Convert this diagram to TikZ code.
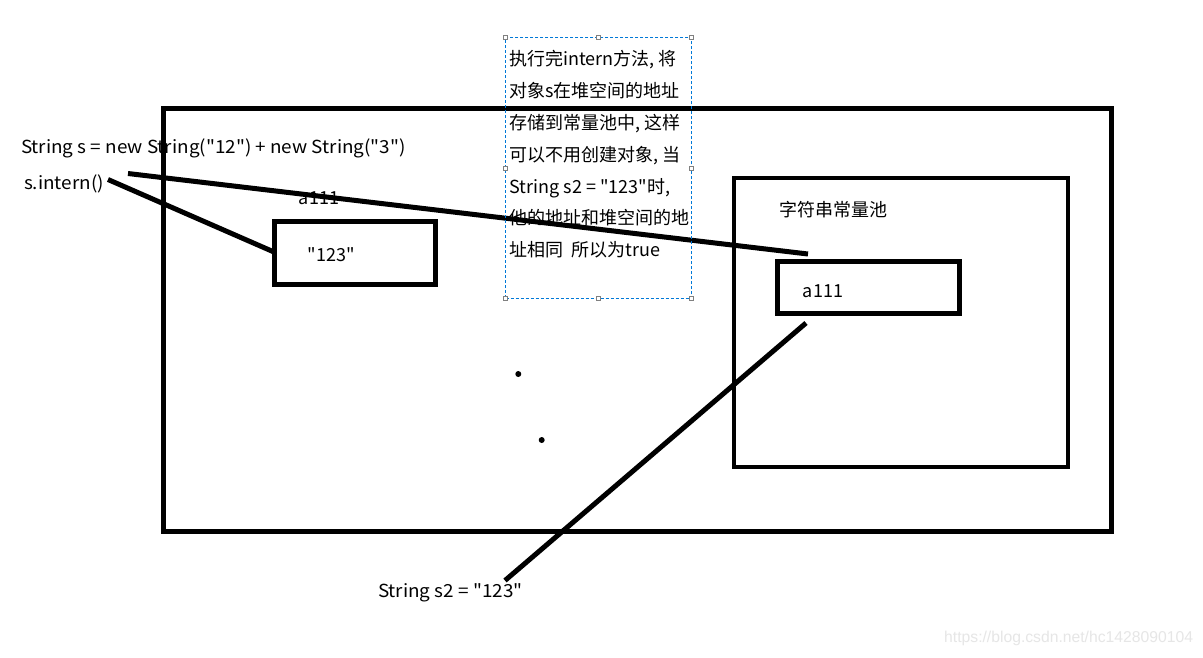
\documentclass[tikz,border=0pt]{standalone}
\usepackage{fontspec}
\setmainfont{Noto Sans CJK SC}[Ligatures=TeXOff]
\newfontfamily\codefont{Noto Sans CJK SC}[Ligatures=TeXOff, FakeStretch=1.05]
\newfontfamily\wmfont{Liberation Sans}
\definecolor{selblue}{RGB}{0,120,215}
\definecolor{wmgray}{RGB}{230,230,230}
\begin{document}
\begin{tikzpicture}[x=1pt,y=-1pt,
  every node/.style={font=\fontsize{18}{22}\selectfont, inner sep=0pt, outer sep=0pt},
  codetxt/.style={anchor=west, font=\codefont\fontsize{18}{22}\selectfont},
  bigbox/.style={draw, line width=5pt, rectangle, inner sep=0pt},
  poolbox/.style={draw, line width=4.5pt, rectangle, inner sep=0pt},
  link/.style={line width=5pt},
  handle/.style={draw=gray, fill=white, line width=0.6pt, minimum size=4pt, inner sep=0pt},
  dot/.style={fill, circle, minimum size=6pt, inner sep=0pt}]
\useasboundingbox (0,0) rectangle (1203,657);
\fill[white] (0,0) rectangle (1203,657);

% heap (outer) box
\node[bigbox, minimum width=948pt, minimum height=423pt] (heap) at (637.5,319.5) {};
% string constant pool
\node[poolbox, minimum width=334pt, minimum height=289pt] (pool) at (901,322.5) {};
\node[anchor=west] (pooltitle) at (779,210) {字符串常量池};
% a111 box in pool
\node[bigbox, minimum width=182.5pt, minimum height=52.5pt] (poolobj) at (868.25,287.25) {};
\node (poolobjtxt) at (823,291) {a111};
% "123" box in heap
\node[bigbox, minimum width=161.5pt, minimum height=62.5pt] (heapobj) at (354.75,252.75) {};
\node (heapobjtxt) at (331.5,255) {"123"};
\node (heapaddr) at (319,198) {a111};

% code texts
\node[codetxt] (code1) at (21,148) {String s = new String("12") + new String("3")};
\node[codetxt] (code2) at (24,184) {s.intern()};
\node[codetxt] (code3) at (378,593) {String s2 = "123"};

% connector end points
\coordinate (c1s) at (128,173.5);
\coordinate (c1e) at (808,254);
\coordinate (c2s) at (108,179.5);
\coordinate (c3s) at (806,323);
\coordinate (c3e) at (505,580.5);

\draw[link] (c1s) -- (c1e);
\draw[link] (c2s) -- (heapobj.west |- 0,252);
\draw[link] (c3s) -- (c3e);

% dots
\node[dot] (d1) at (518.3,374) {};
\node[dot] (d2) at (541.7,440) {};

% selected text box
\node[draw=selblue, dashed, dash pattern=on 3pt off 2pt, line width=0.8pt,
      minimum width=186pt, minimum height=260.6pt] (note) at (598.7,168) {};
\foreach \p in {north west,north,north east,west,east,south west,south,south east}
  \node[handle] at (note.\p) {};
\node[anchor=west, align=left, font=\fontsize{18}{31.8}\selectfont] (notetxt) at (509.5,154.5)
  {执行完intern方法, 将\\对象s在堆空间的地址\\存储到常量池中, 这样\\可以不用创建对象, 当\\String s2 = "123"时,\\他的地址和堆空间的地\\址相同\ \ 所以为true};

% watermark
\node[anchor=east, text=wmgray, font=\wmfont\fontsize{15.7}{18}\selectfont] (wm) at (1193,638) {https://blog.csdn.net/hc1428090104};
\end{tikzpicture}
\end{document}
